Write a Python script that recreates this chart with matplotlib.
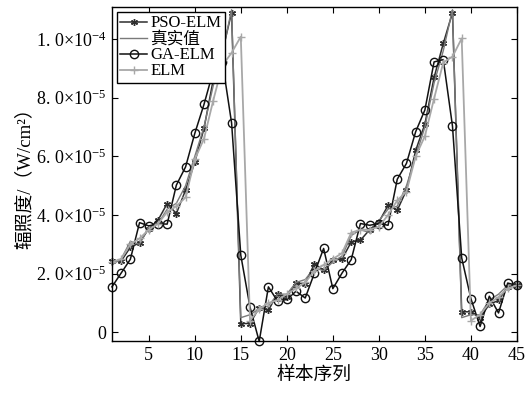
import numpy as np
import matplotlib
matplotlib.use("Agg")
from matplotlib import pyplot as plt

# fuentes: serif para latin, CJK de respaldo
plt.rcParams['font.family'] = ['Liberation Serif', 'DejaVu Serif', 'Noto Sans CJK SC']
plt.rcParams['font.size'] = 12
plt.rcParams['mathtext.fontset'] = 'custom'
plt.rcParams['mathtext.rm'] = 'Liberation Serif'
plt.rcParams['mathtext.it'] = 'Liberation Serif:italic'

# datos (unidades 1e-5 W/cm2)
samples = np.arange(1, 46)
real = [2.3, 2.5, 3.1, 3.0, 3.6, 3.7, 4.2, 4.4, 5.0, 6.0, 7.0, 8.4, 9.5, 11.0,
        0.5, 0.6, 0.8, 0.9, 1.3, 1.3, 1.7, 1.8, 2.2, 2.1, 2.4, 2.6, 3.3, 3.5,
        3.4, 3.8, 4.2, 4.3, 5.0, 6.0, 7.0, 8.5, 9.6, 11.0,
        0.5, 0.6, 0.6, 1.1, 1.3, 1.6, 1.6]
pso_elm = [2.43, 2.43, 2.9, 3.05, 3.54, 3.82, 4.39, 4.05, 4.85, 5.8, 6.95, 8.6, 9.57, 10.9,
           0.3, 0.3, 0.84, 0.75, 1.32, 1.2, 1.68, 1.66, 2.34, 2.12, 2.46, 2.5, 3.08, 3.14,
           3.5, 3.76, 4.33, 4.16, 4.85, 6.2, 7.1, 8.69, 9.85, 10.9,
           0.7, 0.7, 0.5, 0.95, 1.09, 1.56, 1.6]
ga_elm = [1.55, 2.02, 2.49, 3.74, 3.63, 3.7, 3.69, 5.02, 5.64, 6.78, 7.77, 8.9, 9.22, 7.14,
          2.63, 0.86, -0.31, 1.55, 1.06, 1.12, 1.40, 1.17, 2.02, 2.86, 1.49, 2.02, 2.48, 3.71,
          3.65, 3.71, 3.65, 5.22, 5.76, 6.84, 7.58, 9.22, 9.3, 7.03,
          2.54, 1.15, 0.2, 1.23, 0.66, 1.68, 1.6]
elm = [2.4, 2.5, 3.0, 3.2, 3.5, 3.7, 4.1, 4.3, 4.6, 5.9, 6.6, 7.9, 9.1, 9.53,
       10.08, 0.4, 0.8, 1.0, 1.1, 1.3, 1.5, 1.7, 2.1, 2.3, 2.5, 2.7, 3.4, 3.5,
       3.5, 3.6, 4.0, 4.5, 4.8, 6.0, 6.69, 7.97, 9.2, 9.4,
       10.02, 0.4, 0.6, 1.0, 1.2, 1.5, 1.6]

scale = 1e-5
yticks = [0, 2e-5, 4e-5, 6e-5, 8e-5, 1e-4]
yticklabels = ['0', '2. 0×10$^{-5}$', '4. 0×10$^{-5}$', '6. 0×10$^{-5}$',
               '8. 0×10$^{-5}$', '1. 0×10$^{-4}$']
xticks = [5, 10, 15, 20, 25, 30, 35, 40, 45]

fig = plt.figure(figsize=(5.28, 3.93), dpi=100)
ax = fig.add_axes([0.212, 0.132, 0.767, 0.850])

asterisk = (6, 2, 0)
ax.plot(samples, np.array(pso_elm) * scale, color='#2e2e2e', lw=1.1, marker=asterisk,
        markersize=5, mew=1.0, label='PSO-ELM', clip_on=False)
ax.plot(samples, np.array(real) * scale, color='#7a7a7a', lw=1.0, label='真实值', clip_on=False)
ax.plot(samples, np.array(ga_elm) * scale, color='#111111', lw=1.1, marker='o',
        markersize=6, mfc='none', mew=1.0, label='GA-ELM', clip_on=False)
ax.plot(samples, np.array(elm) * scale, color='#a8a8a8', lw=1.3, marker='+',
        markersize=6, mew=1.0, label='ELM', clip_on=False)

ax.set_xlim(1, 45)
ax.set_ylim(-0.3e-5, 1.109e-4)
ax.set_xticks(xticks)
ax.set_yticks(yticks)
ax.set_yticklabels(yticklabels)
ax.tick_params(direction='in', top=True, right=True, length=4, labelsize=13, pad=4)
for s in ax.spines.values():
    s.set_linewidth(1.0)

ax.set_xlabel('样本序列', fontsize=13.5, labelpad=2)
ax.set_ylabel('辐照度/（W/cm²）', fontsize=13.5, labelpad=2)

leg = ax.legend(loc='upper left', bbox_to_anchor=(0.0, 1.0), fontsize=12,
                handlelength=1.6, handletextpad=0.2, labelspacing=0.0,
                borderpad=0.2, borderaxespad=0.3, fancybox=False, framealpha=1.0)
leg.get_frame().set_edgecolor('black')
leg.get_frame().set_linewidth(1.0)

plt.savefig('out.png', dpi=100)
